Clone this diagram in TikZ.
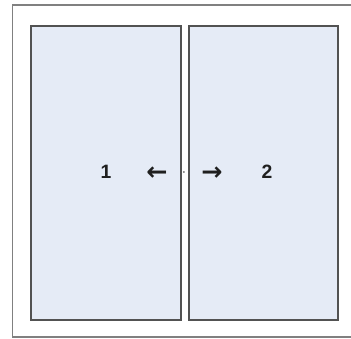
\documentclass[tikz,border=0pt]{standalone}
\usepackage{fontspec}
\setmainfont{Liberation Sans}
\newfontfamily\symfont{DejaVu Sans}
\begin{document}
\begin{tikzpicture}[x=0.75pt,y=-0.75pt,
  panel/.style={draw=black!68,line width=1.6pt,fill=pane},
  lbl/.style={font=\bfseries\fontsize{14.5}{16}\selectfont,text=black!88,inner sep=0pt},
  arr/.style={font=\symfont\bfseries\fontsize{19}{21}\selectfont,text=black!88,inner sep=0pt}]
\definecolor{pane}{HTML}{E5EBF6}
\useasboundingbox (0,0) rectangle (351,339);
\clip (0,0) rectangle (351,339);
\draw[draw=black!50,line width=1.1pt] (12.5,5) rectangle (360,337);
\node[panel,minimum width=150*0.75pt,minimum height=294*0.75pt,inner sep=0pt,anchor=north west] (p1) at (30,25) {};
\node[panel,minimum width=149*0.75pt,minimum height=294*0.75pt,inner sep=0pt,anchor=north west] (p2) at (188,25) {};
\node[lbl] (l1) at (106,172) {1};
\node[lbl] (l2) at (267,172) {2};
\node[arr] (al) at (157,173.5) {←};
\node[arr] (ar) at (212,173.5) {→};
\node[circle,fill=black!60,inner sep=0pt,minimum size=1.5pt] (dot) at (184,172) {};
\end{tikzpicture}
\end{document}
